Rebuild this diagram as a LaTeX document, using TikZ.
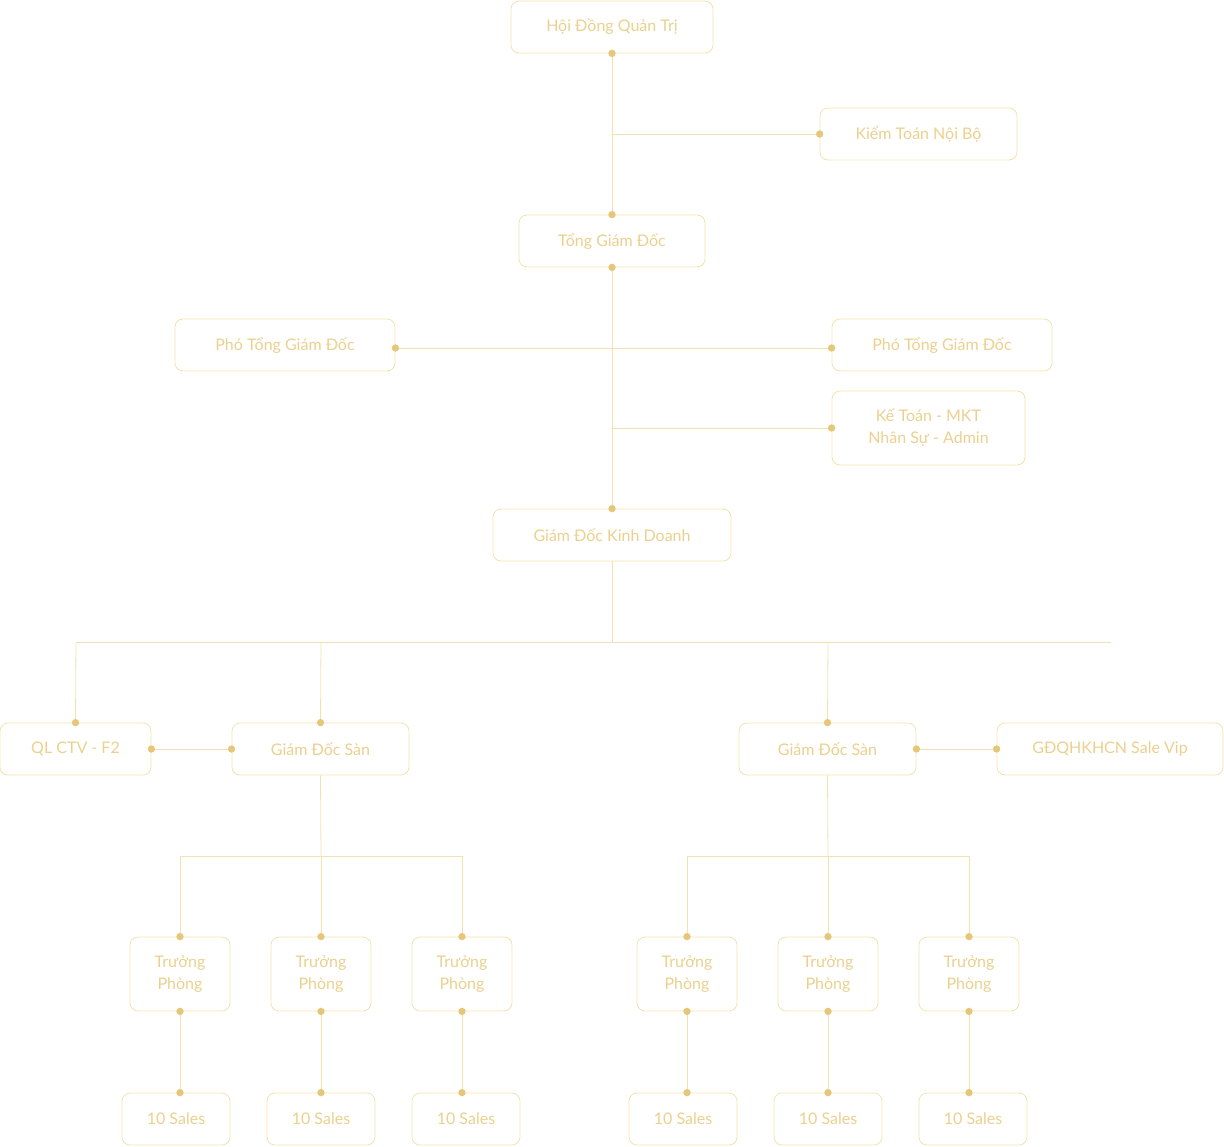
\documentclass[tikz,border=0pt]{standalone}
\usepackage{fontspec}
\setmainfont{Lato}
\begin{document}
\begin{tikzpicture}[x=0.75pt,y=-0.75pt,
 box/.style={draw=boxc,line width=0.6pt,rounded corners=6pt,align=center,text=txtc,font=\fontsize{12}{16.5}\selectfont,inner sep=0pt},
 ln/.style={draw=linec,line width=0.6pt},
 dot/.style={circle,fill=dotc,inner sep=0pt,minimum size=5.5pt}]
\definecolor{boxc}{HTML}{F3E2AE}
\definecolor{txtc}{HTML}{EBD08E}
\definecolor{linec}{HTML}{F3E2B0}
\definecolor{dotc}{HTML}{E6C77A}
\useasboundingbox (0,0) rectangle (1224,1146);
\newcommand{\bx}[6]{\node[box,minimum width=#4*0.75pt,minimum height=#5*0.75pt] (#1) at (#2,#3) {#6};}
\bx{hd}{612}{27}{202}{52}{Hội Đồng Quản Trị}
\bx{kt}{918.5}{134}{197}{52}{Kiểm Toán Nội Bộ}
\bx{tg}{612}{241}{186}{52}{Tổng Giám Đốc}
\bx{pl}{285}{345}{220}{52}{Phó Tổng Giám Đốc}
\bx{pr}{942}{345}{220}{52}{Phó Tổng Giám Đốc}
\bx{ka}{928.5}{428}{193}{74}{Kế Toán - MKT\\Nhân Sự - Admin}
\bx{kd}{612}{535}{238}{52}{Giám Đốc Kinh Doanh}
\bx{ql}{75.5}{749}{151}{52}{QL CTV - F2}
\bx{gl}{320.5}{749}{177}{52}{Giám Đốc Sàn}
\bx{gr}{827.5}{749}{177}{52}{Giám Đốc Sàn}
\bx{vip}{1110}{749}{226}{52}{GĐQHKHCN Sale Vip}
\foreach \i/\x/\s in {1/180/176,2/321/321,3/462/466,4/687/683,5/828/828,6/969/973}{
 \bx{tp\i}{\x}{974}{100}{74}{Trưởng\\Phòng}
 \bx{s\i}{\s}{1119}{108}{52}{10 Sales}
}
% connectors
\draw[ln] (hd.south) -- (tg.north);
\coordinate (j1) at (612,134); \draw[ln] (j1) -- (kt.west);
\draw[ln] (tg.south) -- (kd.north);
\coordinate (j2) at (pl.east|-0,348); \coordinate (j3) at (pr.west|-0,348);
\draw[ln] (j2) -- (j3);
\coordinate (j4) at (612,428); \draw[ln] (j4) -- (ka.west);
\coordinate (b1) at (76,642); \coordinate (b2) at (1111,642); \coordinate (b0) at (612,642);
\draw[ln] (kd.south) -- (b0); \draw[ln] (b1) -- (b2);
\draw[ln] (b1) -- (ql.north);
\draw[ln] (321,642) -- (gl.north);
\draw[ln] (828,642) -- (gr.north);
\draw[ln] (ql.east) -- (gl.west);
\draw[ln] (gr.east) -- (vip.west);
\draw[ln] (gl.south) -- (321,856); \draw[ln] (gr.south) -- (828,856);
\draw[ln] (180,856) -- (462,856); \draw[ln] (687,856) -- (969,856);
\foreach \i in {1,...,6}{
 \draw[ln] (tp\i.north|-0,856) -- (tp\i.north);
 \coordinate (d\i) at (tp\i.north|-s\i.north);
 \draw[ln] (tp\i.south) -- (d\i);
 \node[dot] at (tp\i.north) {}; \node[dot] at (tp\i.south) {}; \node[dot] at (d\i) {};
}
\foreach \p in {hd.south,kt.west,tg.north,tg.south,j2,j3,ka.west,kd.north,ql.north,gl.north,gr.north,ql.east,gl.west,gr.east,vip.west}
 \node[dot] at (\p) {};
\end{tikzpicture}
\end{document}
